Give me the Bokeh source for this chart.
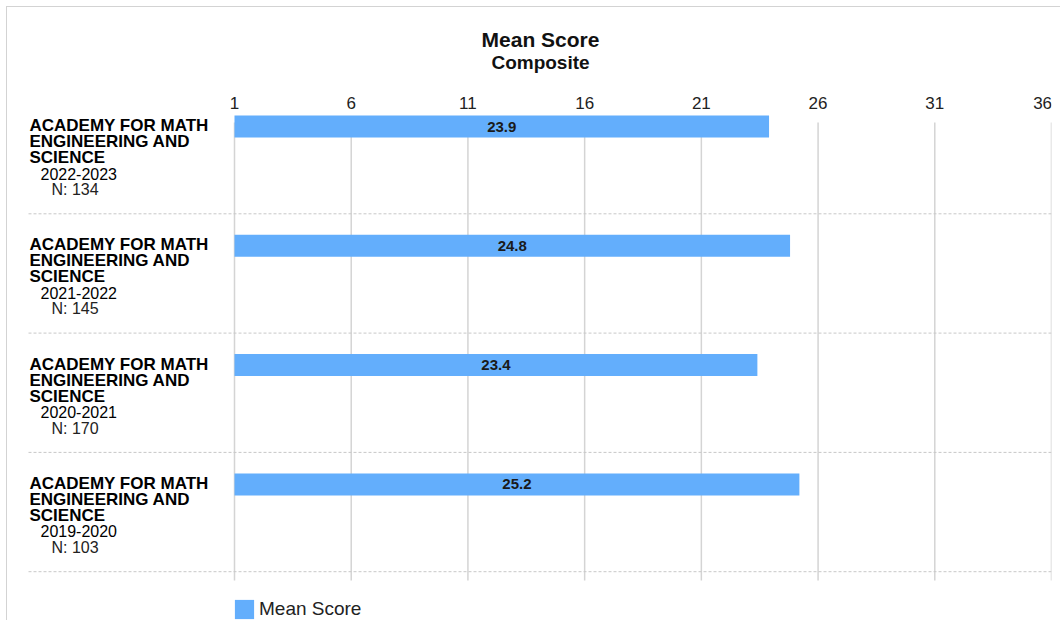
import textwrap
from bokeh.plotting import figure
from bokeh.models import Range1d, FixedTicker, ColumnDataSource, Label, Legend, LegendItem
from bokeh.core.properties import value
from bokeh.embed import file_html
from bokeh.resources import INLINE

# ---------------- data ----------------
school_names = ["ACADEMY FOR MATH ENGINEERING AND SCIENCE"] * 4
school_years = ["2022-2023", "2021-2022", "2020-2021", "2019-2020"]
student_counts = [134, 145, 170, 103]
mean_scores = [23.9, 24.8, 23.4, 25.2]
x_ticks = [1, 6, 11, 16, 21, 26, 31, 36]
series_name = "Mean Score"
chart_title = "Mean Score"
chart_subtitle = "Composite"

# ---------------- layout constants ----------------
FONT = "Liberation Sans"
BAR_COLOR = "#63aefc"
PAGE = 7                                      # figure origin in the picture
W, H = 1061 - PAGE, 621 - PAGE
AX_LEFT_PX, AX_RIGHT_PX = 234, 1051          # picture px of x=1 and x=36
X_MIN, X_MAX = x_ticks[0], x_ticks[-1]
PXU = (AX_RIGHT_PX - AX_LEFT_PX) / (X_MAX - X_MIN)
BAND = 119.3                                  # px per category band
BAND_ORIGIN = 94                              # picture y of first band top
AXIS_Y = 113                                  # picture y of the axis line


def px_x(page_x):
    return X_MIN + (page_x - AX_LEFT_PX) / PXU


def px_y(page_y):
    return (page_y - BAND_ORIGIN) / BAND


p = figure(width=W, height=H, output_backend="svg", toolbar_location=None,
           title=None, x_axis_location="above", y_axis_location=None,
           x_range=Range1d(px_x(PAGE), X_MAX), y_range=Range1d(px_y(PAGE + H), px_y(PAGE)),
           min_border_left=0, min_border_right=W - (AX_RIGHT_PX - PAGE),
           min_border_bottom=0, min_border_top=0)
p.outline_line_color = None
p.xgrid.visible = False
p.ygrid.visible = False
p.styles = {"margin": "7px 0 0 7px", "box-shadow": "-1px -1px 0 0 #d3d3d3"}

ax = p.xaxis[0]
ax.fixed_location = px_y(AXIS_Y)
ax.ticker = FixedTicker(ticks=x_ticks)
ax.axis_line_color = None
ax.major_tick_line_color = None
ax.minor_tick_line_color = None
ax.major_tick_out = 0
ax.major_tick_in = 0
ax.major_label_standoff = 1
ax.major_label_text_font = FONT
ax.major_label_text_font_size = "17px"
ax.major_label_text_color = "#222222"
# the last label is pulled inside the chart edge
ax.major_label_overrides = {x_ticks[-1]: str(x_ticks[-1]) + "\u00a0" * 2}

p.add_layout(Label(x=px_x(540), y=px_y(39), text=chart_title, text_align="center",
                   text_baseline="middle", text_font=FONT, text_font_size="21px",
                   text_font_style="bold", text_color="#111111"))
p.add_layout(Label(x=px_x(540), y=px_y(62), text=chart_subtitle, text_align="center",
                   text_baseline="middle", text_font=FONT, text_font_size="19px",
                   text_font_style="bold", text_color="#111111"))

n = len(mean_scores)

# vertical grid lines
p.segment(x0=x_ticks, x1=x_ticks, y0=[px_y(122)] * len(x_ticks),
          y1=[px_y(580)] * len(x_ticks), line_color="#d4d4d4", line_width=1.5)

# dashed separators between categories
p.segment(x0=[px_x(28)] * n, x1=[X_MAX] * n, y0=[i + 1 for i in range(n)],
          y1=[i + 1 for i in range(n)], line_color="#c8c8c8", line_width=1, line_dash="3 2")

# bars
bar_src = ColumnDataSource(dict(
    y=[i + 32 / BAND for i in range(n)],
    right=mean_scores,
    mid=[(X_MIN + v) / 2 for v in mean_scores],
    lbl=["%.1f" % v for v in mean_scores],
))
bars = p.hbar(y="y", left=X_MIN, right="right", height=22 / BAND, source=bar_src,
              fill_color=BAR_COLOR, line_color=None)
p.text(x="mid", y="y", text="lbl", source=bar_src, text_font=value(FONT),
       text_font_size="15px", text_font_style="bold", text_color="#1a1a1a",
       text_align="center", text_baseline="middle")

# category labels
nx, ny, nt = [], [], []
for i, name in enumerate(school_names):
    for j, line in enumerate(textwrap.wrap(name, 16)):
        nx.append(px_x(29))
        ny.append(i + (31 + 16 * j) / BAND)
        nt.append(line)
p.text(x=nx, y=ny, text=nt, text_font=value(FONT), text_font_size="17px",
       text_font_style="bold", text_color="#000000", text_align="left", text_baseline="middle")
p.text(x=[px_x(40)] * n, y=[i + 79 / BAND for i in range(n)], text=school_years,
       text_font=value(FONT), text_font_size="16px", text_color="#000000",
       text_align="left", text_baseline="middle")
p.text(x=[px_x(51)] * n, y=[i + 95 / BAND for i in range(n)],
       text=["N: %d" % c for c in student_counts],
       text_font=value(FONT), text_font_size="16px", text_color="#222222",
       text_align="left", text_baseline="middle")

legend = Legend(items=[LegendItem(label=series_name, renderers=[bars])],
                location=(AX_LEFT_PX - PAGE - 2, 0), padding=0, margin=0, spacing=0,
                glyph_width=24, glyph_height=24, label_standoff=3,
                label_text_font=FONT, label_text_font_size="19px", label_text_color="#222222",
                border_line_color=None, background_fill_alpha=0)
p.add_layout(legend)

open("out.html", "w").write(file_html(p, INLINE))
